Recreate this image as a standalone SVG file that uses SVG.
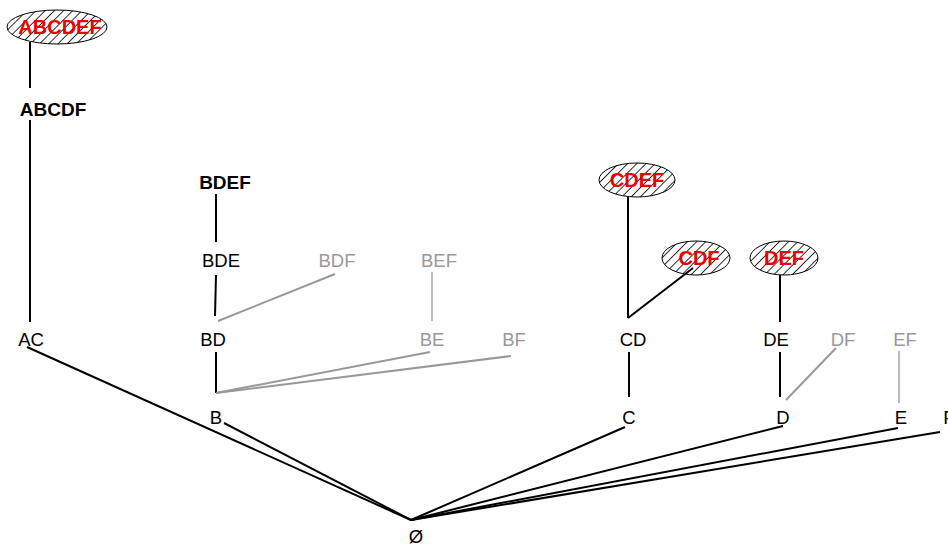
<svg xmlns="http://www.w3.org/2000/svg" width="948" height="548" viewBox="0 0 948 548">
<defs>
<pattern id="hatch" patternUnits="userSpaceOnUse" width="6.5" height="6.5" patternTransform="rotate(45)">
<line x1="0" y1="0" x2="0" y2="6.5" stroke="#000" stroke-width="1.6"/>
</pattern>
<style>
text{font-family:"Liberation Sans",Arial,sans-serif;font-size:18.5px;text-anchor:middle}
.k{fill:#000}
.g{fill:#999}
.b{font-weight:bold;font-size:19px}
.r{fill:#ee0000;font-weight:bold;font-size:20px}
.hl{fill:url(#hatch);stroke:#000;stroke-width:1}
.e{stroke:#000;stroke-width:2;fill:none}
.eg{stroke:#999;stroke-width:2;fill:none}
.el{stroke:#bbb;stroke-width:2;fill:none}
</style>
</defs>
<rect width="948" height="548" fill="#fff"/>
<g id="connectors">
<line class="e" x1="30" y1="42" x2="30" y2="88"/>
<line class="e" x1="30" y1="120" x2="30" y2="322"/>
<line class="e" x1="27" y1="347" x2="411" y2="520"/>
<line class="e" x1="224" y1="423" x2="411" y2="520"/>
<line class="e" x1="625" y1="427" x2="411" y2="520"/>
<line class="e" x1="783" y1="426" x2="411" y2="520"/>
<line class="e" x1="898" y1="428" x2="411" y2="520"/>
<line class="e" x1="940" y1="432" x2="411" y2="520"/>
<line class="e" x1="216" y1="194" x2="216" y2="242"/>
<line class="e" x1="216" y1="275" x2="215" y2="316"/>
<line class="eg" x1="335" y1="274" x2="218" y2="321"/>
<line class="el" x1="432" y1="272" x2="432" y2="321"/>
<line class="e" x1="216" y1="352" x2="216" y2="393"/>
<line class="eg" x1="430" y1="352" x2="216" y2="393"/>
<line class="eg" x1="511" y1="356" x2="216" y2="393"/>
<line class="e" x1="628" y1="196" x2="628" y2="318"/>
<line class="e" x1="693" y1="268" x2="628" y2="318"/>
<line class="e" x1="629" y1="352" x2="629" y2="397"/>
<line class="e" x1="780" y1="275" x2="780" y2="322"/>
<line class="e" x1="780" y1="352" x2="780" y2="397"/>
<line class="eg" x1="836" y1="348" x2="786" y2="400"/>
<line class="el" x1="899" y1="351" x2="899" y2="403"/>
</g>
<g id="n-ABCDEF"><ellipse class="hl" cx="57" cy="27" rx="50" ry="17"/><text class="r" x="60" y="34">ABCDEF</text></g>
<g id="n-ABCDF"><text class="k b" x="53" y="116">ABCDF</text></g>
<g id="n-BDEF"><text class="k b" x="225" y="189">BDEF</text></g>
<g id="n-CDEF"><ellipse class="hl" cx="637" cy="180" rx="38" ry="17"/><text class="r" x="637" y="187">CDEF</text></g>
<g id="n-BDE"><text class="k" x="221" y="267">BDE</text></g>
<g id="n-BDF"><text class="g" x="337" y="267">BDF</text></g>
<g id="n-BEF"><text class="g" x="439" y="267">BEF</text></g>
<g id="n-CDF"><ellipse class="hl" cx="696" cy="258" rx="34" ry="17"/><text class="r" x="699" y="265">CDF</text></g>
<g id="n-DEF"><ellipse class="hl" cx="784" cy="258" rx="34" ry="17"/><text class="r" x="784" y="265">DEF</text></g>
<g id="n-AC"><text class="k" x="31" y="346">AC</text></g>
<g id="n-BD"><text class="k" x="213" y="346">BD</text></g>
<g id="n-BE"><text class="g" x="432" y="346">BE</text></g>
<g id="n-BF"><text class="g" x="514" y="346">BF</text></g>
<g id="n-CD"><text class="k" x="633" y="346">CD</text></g>
<g id="n-DE"><text class="k" x="776" y="346">DE</text></g>
<g id="n-DF"><text class="g" x="843" y="346">DF</text></g>
<g id="n-EF"><text class="g" x="905" y="346">EF</text></g>
<g id="n-B"><text class="k" x="216" y="424">B</text></g>
<g id="n-C"><text class="k" x="629" y="424">C</text></g>
<g id="n-D"><text class="k" x="783" y="424">D</text></g>
<g id="n-E"><text class="k" x="901" y="424">E</text></g>
<g id="n-F"><text class="k" x="949" y="424">F</text></g>
<g id="n-empty"><text class="k" x="416" y="543">Ø</text></g>
</svg>
